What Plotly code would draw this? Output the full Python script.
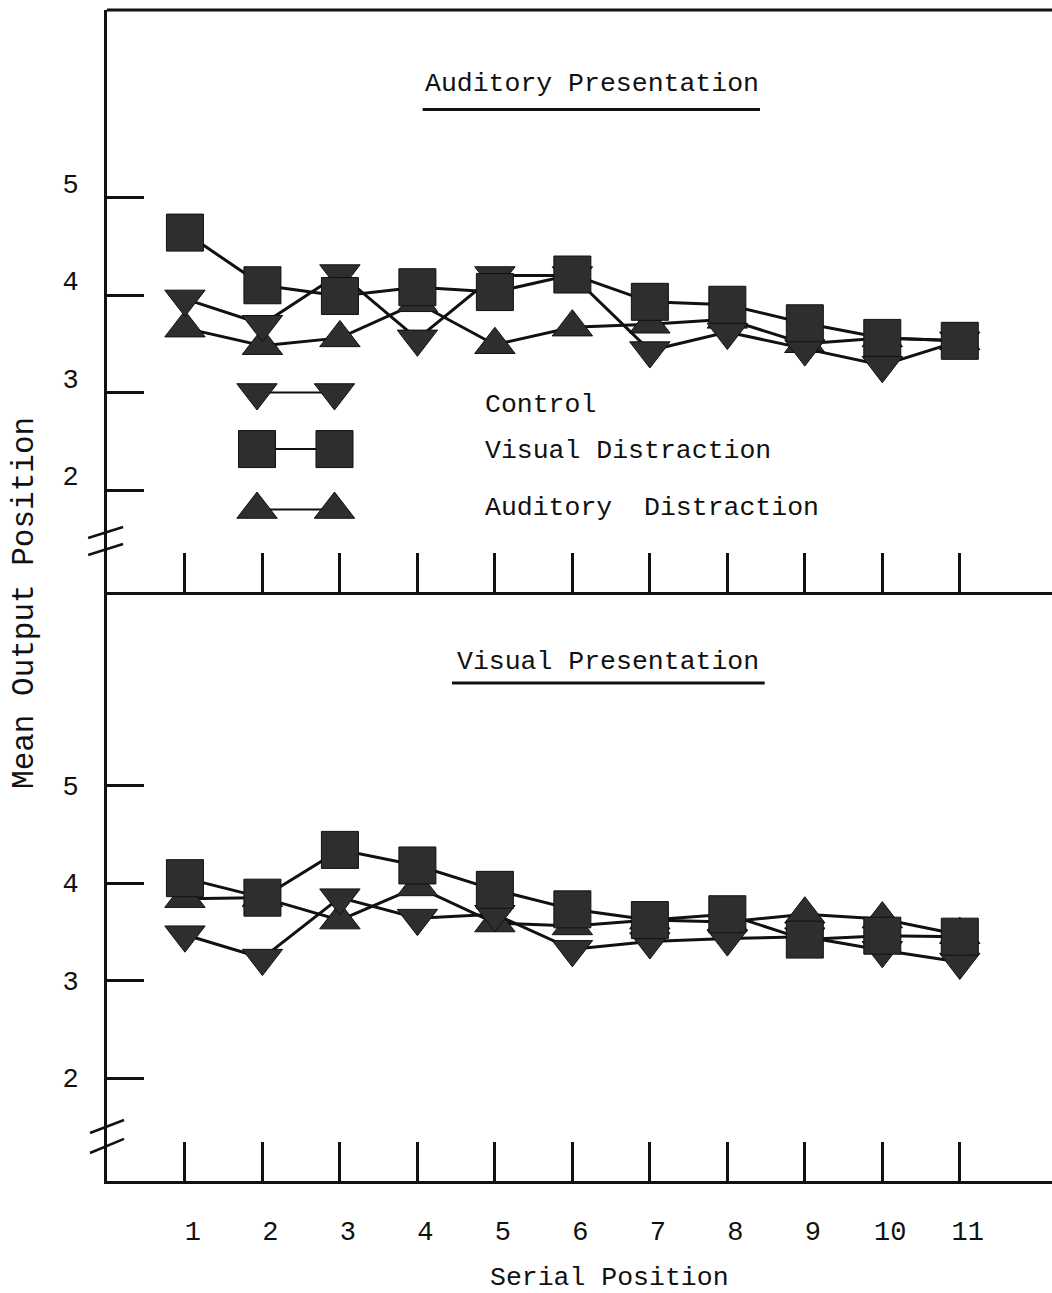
import plotly.graph_objects as go

# ---------------- data ----------------
serial_positions = [1, 2, 3, 4, 5, 6, 7, 8, 9, 10, 11]
x_tick_labels = ["1", "2", "3", "4", "5", "6", "7", "8", "9", "10", "11"]
y_tick_values = [2, 3, 4, 5]
y_tick_labels = ["2", "3", "4", "5"]

# Auditory presentation (top panel)
aud_control = [3.96, 3.70, 4.22, 3.55, 4.20, 4.20, 3.43, 3.62, 3.45, 3.28, 3.53]
aud_visual_dist = [4.64, 4.10, 3.99, 4.08, 4.03, 4.21, 3.93, 3.90, 3.71, 3.56, 3.53]
aud_auditory_dist = [3.66, 3.48, 3.56, 3.92, 3.49, 3.67, 3.70, 3.75, 3.50, 3.56, 3.53]

# Visual presentation (bottom panel)
vis_control = [3.47, 3.23, 3.85, 3.64, 3.68, 3.32, 3.40, 3.43, 3.45, 3.31, 3.19]
vis_visual_dist = [4.05, 3.85, 4.34, 4.18, 3.93, 3.73, 3.62, 3.68, 3.42, 3.46, 3.45]
vis_auditory_dist = [3.84, 3.85, 3.62, 3.96, 3.59, 3.56, 3.62, 3.60, 3.68, 3.63, 3.47]

series_names = ["Control", "Visual Distraction", "Auditory\u00a0 Distraction"]

# ---------------- style ----------------
FONT = "Liberation Mono, DejaVu Sans Mono, monospace"
INK = "#111111"
FILL = "#2e2e2e"
SYMBOLS = {"Control": "triangle-down", "Visual": "square", "Auditory": "triangle-up"}
SIZES = {"Control": 35, "Visual": 37, "Auditory": 35}

fig = go.Figure()


def add_series(x, y, kind, xa, ya, lw=3):
    fig.add_trace(go.Scatter(
        x=x, y=y, mode="lines+markers", xaxis=xa, yaxis=ya,
        line=dict(color=INK, width=lw),
        marker=dict(symbol=SYMBOLS[kind], size=SIZES[kind], color=FILL,
                    line=dict(color=INK, width=1)),
        showlegend=False, hoverinfo="skip", cliponaxis=False,
    ))


# top panel
add_series(serial_positions, aud_auditory_dist, "Auditory", "x", "y")
add_series(serial_positions, aud_control, "Control", "x", "y")
add_series(serial_positions, aud_visual_dist, "Visual", "x", "y")
# bottom panel
add_series(serial_positions, vis_auditory_dist, "Auditory", "x2", "y2")
add_series(serial_positions, vis_control, "Control", "x2", "y2")
add_series(serial_positions, vis_visual_dist, "Visual", "x2", "y2")

# legend keys (layout positions inside the top panel)
LEGEND_KEY_X = [1.93, 2.93]
LEGEND_ROWS = [("Control", 3.0), ("Visual", 2.42), ("Auditory", 1.80)]
for kind, yk in LEGEND_ROWS:
    add_series(LEGEND_KEY_X, [yk, yk], kind, "x", "y", lw=2)

# ---------------- layout ----------------
X_RANGE = [-0.006, 12.19]
TOP_Y_RANGE = [0.954, 6.923]
BOT_Y_RANGE = [0.944, 6.985]
SPLIT = 0.503

common_x = dict(range=X_RANGE, tickvals=serial_positions, ticks="inside", ticklen=39,
                tickwidth=2.5, tickcolor=INK, showline=True, linewidth=3, linecolor=INK,
                showgrid=False, zeroline=False, fixedrange=True)
common_y = dict(tickvals=y_tick_values, ticktext=y_tick_labels, ticks="inside", ticklen=37,
                tickwidth=3, tickcolor=INK, showline=True, linewidth=3, linecolor=INK,
                showgrid=False, zeroline=False, ticklabelstandoff=20,
                tickfont=dict(family=FONT, size=27, color=INK))

fig.update_layout(
    width=1052, height=1293,
    margin=dict(l=107, r=0, t=10, b=112),
    paper_bgcolor="white", plot_bgcolor="rgba(0,0,0,0)",
    font=dict(family=FONT, color=INK),
    showlegend=False,
    xaxis=dict(domain=[0, 1], anchor="y", showticklabels=False, **common_x),
    yaxis=dict(domain=[SPLIT, 1], anchor="x", range=TOP_Y_RANGE, ticklabelshift=-14, **common_y),
    xaxis2=dict(domain=[0, 1], anchor="y2", ticktext=x_tick_labels, ticklabelstandoff=24,
                ticklabelshift=8, tickfont=dict(family=FONT, size=27, color=INK), **common_x),
    yaxis2=dict(domain=[0, SPLIT], anchor="x2", range=BOT_Y_RANGE, **common_y),
)

shapes = [
    # top frame line
    dict(type="line", xref="paper", yref="paper", x0=0, x1=1.01, y0=1, y1=1,
         line=dict(color=INK, width=3)),
    # axis break marks, top panel
    dict(type="line", xref="paper", yref="paper", x0=-0.020, x1=0.017, y0=0.5491, y1=0.5585,
         line=dict(color=INK, width=2.5)),
    dict(type="line", xref="paper", yref="paper", x0=-0.020, x1=0.017, y0=0.5346, y1=0.5440,
         line=dict(color=INK, width=2.5)),
    # axis break marks, bottom panel
    dict(type="line", xref="paper", yref="paper", x0=-0.018, x1=0.018, y0=0.041, y1=0.0521,
         line=dict(color=INK, width=2.5)),
    dict(type="line", xref="paper", yref="paper", x0=-0.018, x1=0.018, y0=0.0239, y1=0.0359,
         line=dict(color=INK, width=2.5)),
    # title underlines
    dict(type="line", xref="paper", yref="paper", x0=0.334, x1=0.691, y0=0.915, y1=0.915,
         line=dict(color=INK, width=3)),
    dict(type="line", xref="paper", yref="paper", x0=0.365, x1=0.696, y0=0.4253, y1=0.4253,
         line=dict(color=INK, width=3)),
]
fig.update_layout(shapes=shapes)

TXT = dict(family=FONT, size=26.5, color=INK)
annotations = [
    dict(text="Auditory Presentation", x=0.513, y=0.937, xanchor="center", yanchor="middle"),
    dict(text="Visual Presentation", x=0.530, y=0.4433, xanchor="center", yanchor="middle"),
    dict(text=series_names[0], x=0.398, y=0.663, xanchor="left", yanchor="middle"),
    dict(text=series_names[1], x=0.398, y=0.623, xanchor="left", yanchor="middle"),
    dict(text=series_names[2], x=0.398, y=0.575, xanchor="left", yanchor="middle"),
    dict(text="Serial Position", x=0.532, y=-0.083, xanchor="center", yanchor="middle"),
]
for a in annotations:
    a.update(xref="paper", yref="paper", showarrow=False, font=TXT)
annotations.append(dict(text="Mean Output Position", x=-0.0868, y=0.4936, xref="paper",
                        yref="paper", xanchor="center", yanchor="middle", textangle=-90,
                        showarrow=False, font=dict(family=FONT, size=31, color=INK)))
fig.update_layout(annotations=annotations)

fig.write_html("out.html", config={"displayModeBar": False})
